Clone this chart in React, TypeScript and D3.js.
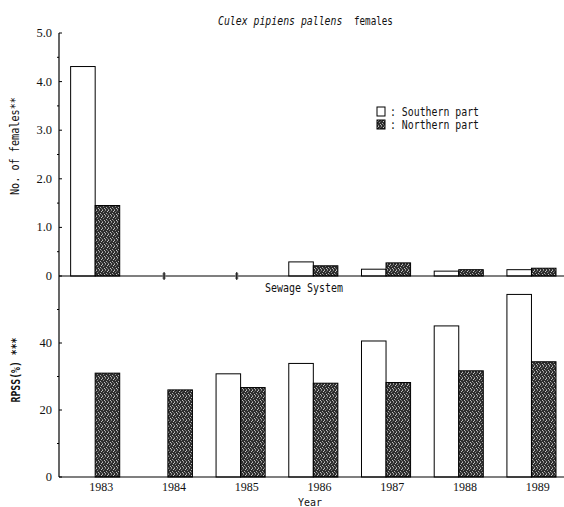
import React from "react";
import * as d3 from "d3";

const years = ["1983", "1984", "1985", "1986", "1987", "1988", "1989"];
const series = ["Southern part", "Northern part"];
const femalesSouthern = [4.31, 0, 0, 0.29, 0.14, 0.1, 0.13];
const femalesNorthern = [1.45, 0, 0, 0.21, 0.27, 0.13, 0.16];
const rpssSouthern = [0, 0, 30.8, 33.9, 40.6, 45.1, 54.5];
const rpssNorthern = [31, 26, 26.7, 28, 28.2, 31.7, 34.4];
const zeroMarkYears = ["1984", "1985"];
const topTicks = [0, 1, 2, 3, 4, 5];
const topMinor = [0.5, 1.5, 2.5, 3.5, 4.5];
const bottomTicks = [0, 20, 40];
const bottomMinor = [10, 30, 50];

const W = 564;
const H = 507;
const axisX = 59;
const rightX = 566;
const mono = "'DejaVu Sans Mono', 'Liberation Mono', monospace";
const serif = "'Liberation Serif', 'DejaVu Serif', serif";

// stipple texture cells (style only): [x, y, shade]
const stippleCells: [number, number, string][] = [
  [0, 0, "#bdbdbd"], [3, 0, "#7a7a7a"], [5, 1, "#c8c8c8"], [1, 2, "#8a8a8a"],
  [4, 3, "#b0b0b0"], [2, 4, "#c0c0c0"], [0, 5, "#7d7d7d"], [5, 4, "#6f6f6f"],
  [2, 1, "#555"], [3, 5, "#a5a5a5"],
];

export default function App() {
  const x0 = d3.scaleBand<string>().domain(years).range([axisX, 568]).padding(0);
  const step = x0.bandwidth();
  const x1 = d3
    .scaleBand<string>()
    .domain(series)
    .range([step * 0.16, step * 0.835])
    .padding(0);
  const yTop = d3.scaleLinear().domain([0, 5]).range([276, 33]);
  const yBot = d3.scaleLinear().domain([0, 60]).range([477, 276]);

  const topData = years.map((yr, i) => ({ yr, vals: [femalesSouthern[i], femalesNorthern[i]] }));
  const botData = years.map((yr, i) => ({ yr, vals: [rpssSouthern[i], rpssNorthern[i]] }));

  const fillFor = (k: number) => (k === 0 ? "#ffffff" : "url(#stipple)");

  const bars = (
    data: { yr: string; vals: number[] }[],
    y: d3.ScaleLinear<number, number>,
    key: string
  ) =>
    data.map((d) =>
      d.vals.map((v, k) => {
        const xs = (x0(d.yr) as number) + (x1(series[k]) as number);
        const top = y(v);
        const h = y(0) - top;
        if (h <= 0) return null;
        return (
          <rect
            key={`${key}-${d.yr}-${k}`}
            x={xs}
            y={top}
            width={x1.bandwidth()}
            height={h}
            fill={fillFor(k)}
            stroke="#000"
            strokeWidth={1}
          />
        );
      })
    );

  return (
    <svg
      width={W}
      height={H}
      style={{ position: "absolute", left: 0, top: 0, background: "#fff" }}
    >
      <defs>
        <pattern id="stipple" width="6" height="6" patternUnits="userSpaceOnUse">
          <rect width="6" height="6" fill="#2e2e2e" />
          {stippleCells.map(([cx, cy, c], i) => (
            <rect key={i} x={cx} y={cy} width={1} height={1} fill={c} />
          ))}
        </pattern>
      </defs>

      {/* Title */}
      <text
        transform="translate(218,25) scale(0.82,1)"
        fontFamily={mono}
        fontSize={12}
        fontStyle="italic"
        fill="#111"
      >
        Culex pipiens pallens
      </text>
      <text
        transform="translate(354,25) scale(0.77,1)"
        fontFamily={mono}
        fontSize={12}
        fill="#111"
      >
        females
      </text>

      {/* Bars */}
      {bars(topData, yTop, "t")}
      {bars(botData, yBot, "b")}

      {/* Axes lines */}
      <line x1={axisX} x2={axisX} y1={33} y2={477} stroke="#000" strokeWidth={1.2} />
      <line x1={axisX} x2={rightX} y1={yTop(0)} y2={yTop(0)} stroke="#000" strokeWidth={1.2} />
      <line x1={axisX} x2={rightX} y1={yBot(0)} y2={yBot(0)} stroke="#000" strokeWidth={1.2} />

      {/* zero markers */}
      {zeroMarkYears.map((yr) => {
        const cx = (x0(yr) as number) + step / 2 - 4;
        return (
          <g key={`zm-${yr}`} stroke="#000" strokeWidth={1}>
            <line x1={cx} x2={cx} y1={yTop(0) - 4} y2={yTop(0) + 4} />
            <line x1={cx - 1.5} x2={cx + 1.5} y1={yTop(0) - 2} y2={yTop(0) - 2} />
            <line x1={cx - 1.5} x2={cx + 1.5} y1={yTop(0) + 2} y2={yTop(0) + 2} />
          </g>
        );
      })}

      {/* Top y ticks */}
      {topTicks.map((t) => (
        <g key={`tt-${t}`}>
          <line x1={axisX} x2={axisX + 3} y1={yTop(t)} y2={yTop(t)} stroke="#000" />
          <text
            x={52}
            y={yTop(t) + 4}
            textAnchor="end"
            fontFamily={serif}
            fontSize={12.5}
            fill="#111"
          >
            {t === 0 ? "0" : d3.format(".1f")(t)}
          </text>
        </g>
      ))}
      {topMinor.map((t) => (
        <line key={`tm-${t}`} x1={axisX - 2} x2={axisX} y1={yTop(t)} y2={yTop(t)} stroke="#000" />
      ))}

      {/* Bottom y ticks */}
      {bottomTicks.map((t) => (
        <g key={`bt-${t}`}>
          <line x1={axisX} x2={axisX + 3} y1={yBot(t)} y2={yBot(t)} stroke="#000" />
          <text
            x={52}
            y={yBot(t) + 4}
            textAnchor="end"
            fontFamily={serif}
            fontSize={12.5}
            fill="#111"
          >
            {t}
          </text>
        </g>
      ))}
      {bottomMinor.map((t) => (
        <line key={`bm-${t}`} x1={axisX - 2} x2={axisX} y1={yBot(t)} y2={yBot(t)} stroke="#000" />
      ))}

      {/* Year labels */}
      {years.map((yr) => (
        <text
          key={`yl-${yr}`}
          x={(x0(yr) as number) + step / 2 + 6}
          y={491}
          textAnchor="middle"
          fontFamily={serif}
          fontSize={12}
          fill="#111"
        >
          {yr}
        </text>
      ))}
      <text
        x={310}
        y={506}
        textAnchor="middle"
        fontFamily={mono}
        fontSize={10}
        textLength={24}
        lengthAdjust="spacingAndGlyphs"
        fill="#111"
      >
        Year
      </text>

      {/* Sewage System */}
      <text
        x={265}
        y={292}
        fontFamily={mono}
        fontSize={12}
        textLength={78}
        lengthAdjust="spacingAndGlyphs"
        fill="#111"
      >
        Sewage System
      </text>

      {/* Y labels */}
      <text
        transform="translate(19,146) rotate(-90)"
        textAnchor="middle"
        fontFamily={mono}
        fontSize={12}
        textLength={98}
        lengthAdjust="spacingAndGlyphs"
        fill="#111"
      >
        No. of females**
      </text>
      <text
        transform="translate(20,370) rotate(-90)"
        textAnchor="middle"
        fontFamily={mono}
        fontSize={12}
        fontWeight="bold"
        textLength={65}
        lengthAdjust="spacingAndGlyphs"
        fill="#111"
      >
        RPSS(%) ***
      </text>

      {/* Legend */}
      {series.map((s, k) => (
        <g key={`lg-${k}`}>
          <rect
            x={377}
            y={107 + k * 13}
            width={8}
            height={9}
            fill={fillFor(k)}
            stroke="#000"
            strokeWidth={1}
          />
          <text
            x={390}
            y={116 + k * 13}
            fontFamily={mono}
            fontSize={12}
            textLength={89}
            lengthAdjust="spacingAndGlyphs"
            fill="#111"
          >
            {`: ${s}`}
          </text>
        </g>
      ))}
    </svg>
  );
}
